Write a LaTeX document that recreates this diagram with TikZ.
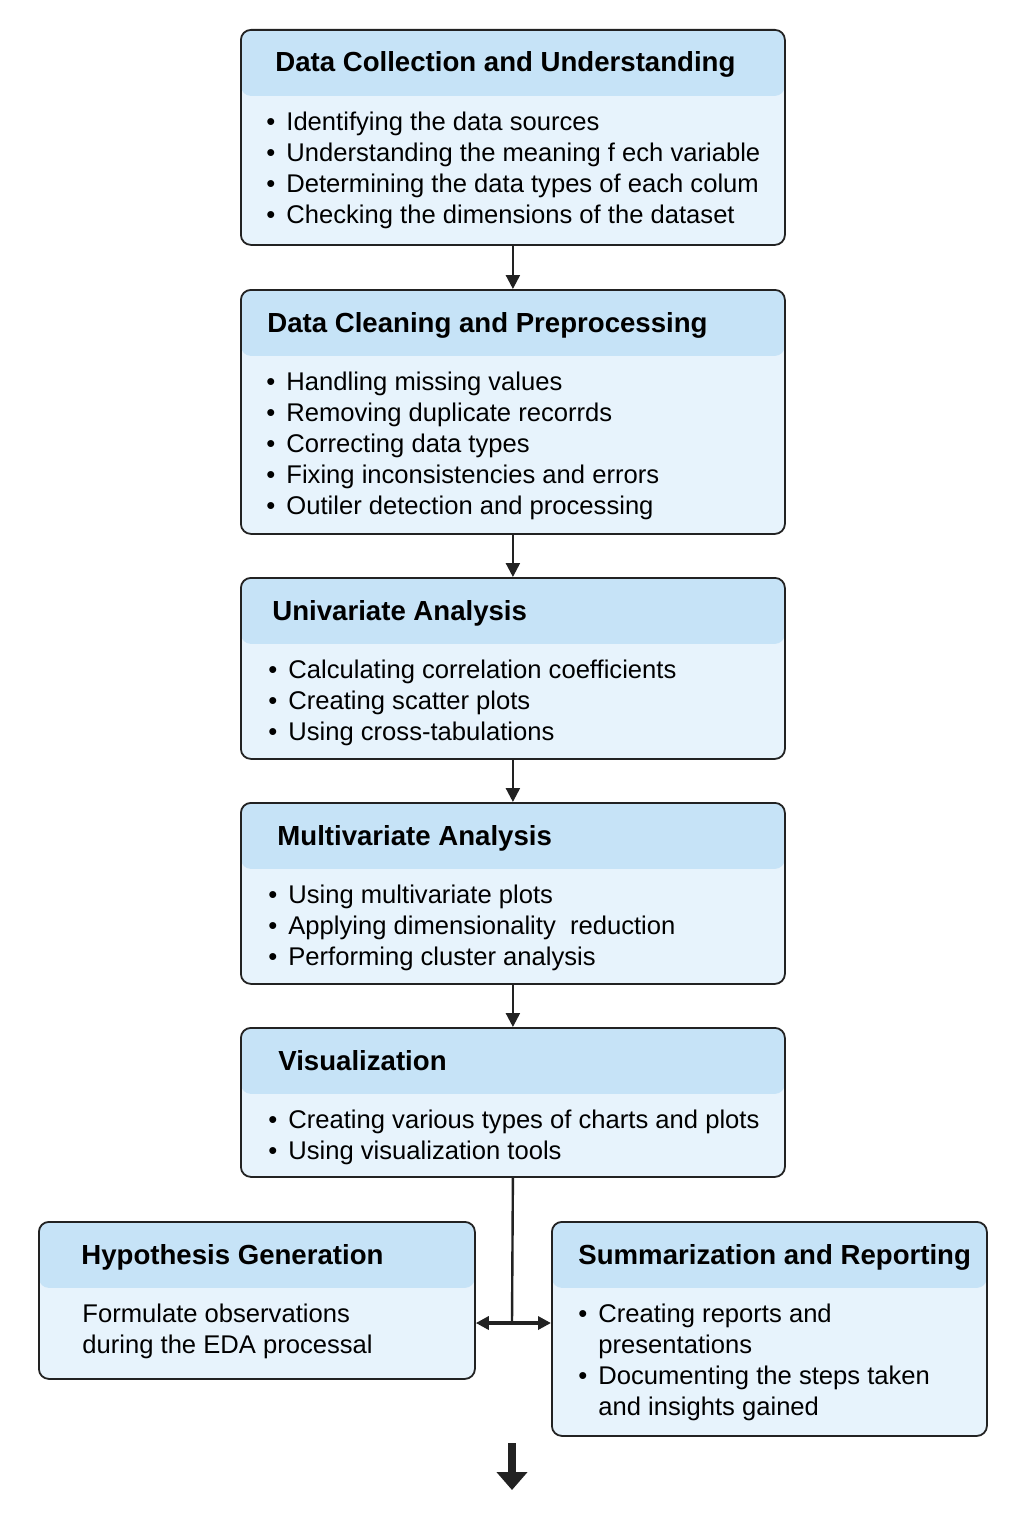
\documentclass[tikz,border=0pt]{standalone}
\usepackage{fontspec}
\setmainfont{Liberation Sans}
\usetikzlibrary{arrows.meta}
\definecolor{headblue}{HTML}{C6E3F7}
\definecolor{bodyblue}{HTML}{E7F3FC}
\definecolor{edgegray}{HTML}{222222}
\def\itm{\makebox[10pt][l]{\textbullet}}
\def\gap{\hspace*{10pt}}

\begin{document}
\begin{tikzpicture}[x=0.5pt, y=-0.5pt,
		stage/.style={draw=edgegray, line width=0.9pt, rounded corners=5pt, fill=bodyblue, anchor=north west, inner sep=0pt,
			path picture={\fill[headblue] (path picture bounding box.north west) rectangle ([yshift=-33pt]path picture bounding box.north east);}},
		head/.style={anchor=base west, inner sep=0pt, font=\bfseries\fontsize{13.8}{16}\selectfont},
		items/.style={anchor=north west, inner sep=0pt, align=left, font=\fontsize{12.8}{15.5}\selectfont},
		flow/.style={draw=edgegray, line width=1.2pt, -{Triangle[length=7pt,width=7pt]}},
		link/.style={draw=edgegray, line width=1.2pt},
		twoway/.style={draw=edgegray, line width=2pt, {Triangle[length=6.5pt,width=6.5pt]}-{Triangle[length=6.5pt,width=6.5pt]}},
		bigarrow/.style={draw=edgegray, line width=4pt, -{Triangle[length=9pt,width=15pt]}}]
		%%%%% START %%%%%
		
		\fill[white] (0, 0) rectangle (1024, 1536);
		
		\node[stage, minimum width=272pt, minimum height=107.5pt] (collect) at (240, 29) {};
		\node[head] (collect-title) at ([shift={(35, 43)}]collect.north west) {Data Collection and Understanding};
		\node[items] (collect-list) at ([shift={(26, 83)}]collect.north west) {\itm Identifying the data sources\\ \itm Understanding the meaning f ech variable\\ \itm Determining the data types of each colum\\ \itm Checking the dimensions of the dataset};
		
		\node[stage, minimum width=272pt, minimum height=122pt] (clean) at (240, 289) {};
		\node[head] (clean-title) at ([shift={(27, 43)}]clean.north west) {Data Cleaning and Preprocessing};
		\node[items] (clean-list) at ([shift={(26, 83)}]clean.north west) {\itm Handling missing values\\ \itm Removing duplicate recorrds\\ \itm Correcting data types\\ \itm Fixing inconsistencies and errors\\ \itm Outiler detection and processing};
		
		\node[stage, minimum width=272pt, minimum height=90.5pt] (uni) at (240, 577) {};
		\node[head] (uni-title) at ([shift={(32, 43)}]uni.north west) {Univariate Analysis};
		\node[items] (uni-list) at ([shift={(28, 83)}]uni.north west) {\itm Calculating correlation coefficients\\ \itm Creating scatter plots\\ \itm Using cross-tabulations};
		
		\node[stage, minimum width=272pt, minimum height=90.5pt] (multi) at (240, 802) {};
		\node[head] (multi-title) at ([shift={(37, 43)}]multi.north west) {Multivariate Analysis};
		\node[items] (multi-list) at ([shift={(28, 83)}]multi.north west) {\itm Using multivariate plots\\ \itm Applying dimensionality\ \ reduction\\ \itm Performing cluster analysis};
		
		\node[stage, minimum width=272pt, minimum height=74.5pt] (visual) at (240, 1027) {};
		\node[head] (visual-title) at ([shift={(38, 43)}]visual.north west) {Visualization};
		\node[items] (visual-list) at ([shift={(28, 83)}]visual.north west) {\itm Creating various types of charts and plots\\ \itm Using visualization tools};
		
		\node[stage, minimum width=218pt, minimum height=78.5pt] (hypo) at (38, 1221) {};
		\node[head] (hypo-title) at ([shift={(43, 43)}]hypo.north west) {Hypothesis Generation};
		\node[items] (hypo-list) at ([shift={(44, 83)}]hypo.north west) {Formulate observations\\ during the EDA processal};
		
		\node[stage, minimum width=217.5pt, minimum height=107pt] (summ) at (551, 1221) {};
		\node[head] (summ-title) at ([shift={(27, 43)}]summ.north west) {Summarization and Reporting};
		\node[items] (summ-list) at ([shift={(27, 83)}]summ.north west) {\itm Creating reports and\\ \gap presentations\\ \itm Documenting the steps taken\\ \gap and insights gained};
		
		\draw[flow] (collect.south) -- (clean.north);
		\draw[flow] (clean.south) -- (uni.north);
		\draw[flow] (uni.south) -- (multi.north);
		\draw[flow] (multi.south) -- (visual.north);
		
		\coordinate (split) at (512, 1323);
		\draw[link] (visual.south) -- (split);
		\draw[twoway] (hypo.east |- split) -- (summ.west |- split);
		
		\coordinate (tail-top) at (512, 1443);
		\coordinate (tail-end) at (512, 1490);
		\draw[bigarrow] (tail-top) -- (tail-end);
		
		%%%%% END %%%%%
\end{tikzpicture}
\end{document}
